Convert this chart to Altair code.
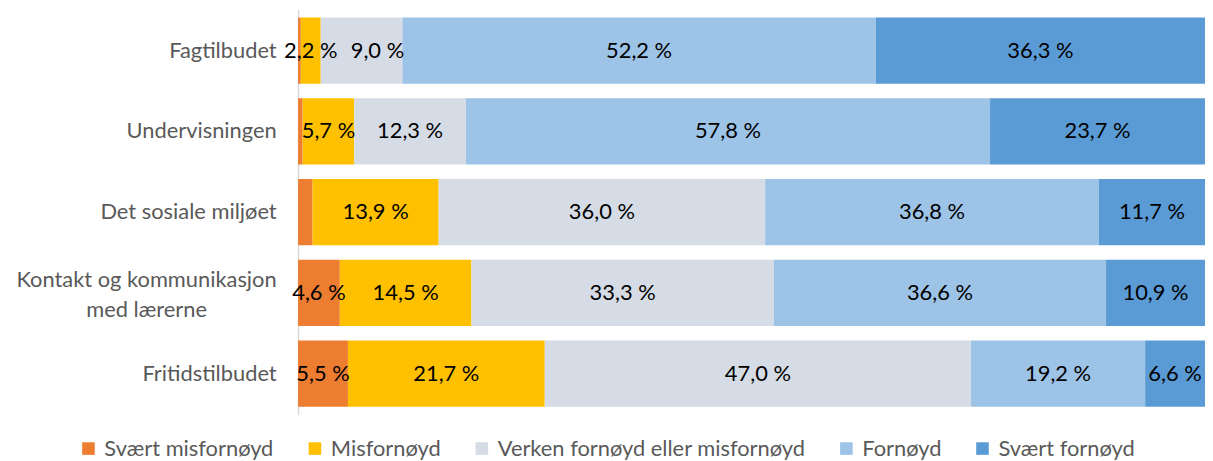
import altair as alt
import pandas as pd

categories = ["Fagtilbudet", "Undervisningen", "Det sosiale miljøet",
              "Kontakt og kommunikasjon med lærerne", "Fritidstilbudet"]
responses = ["Svært misfornøyd", "Misfornøyd", "Verken fornøyd eller misfornøyd",
             "Fornøyd", "Svært fornøyd"]
colors = ["#ED7D31", "#FFC000", "#D6DCE5", "#9DC3E6", "#5B9BD5"]

svaert_misfornoyd = [0.3, 0.5, 1.6, 4.6, 5.5]
misfornoyd = [2.2, 5.7, 13.9, 14.5, 21.7]
verken = [9.0, 12.3, 36.0, 33.3, 47.0]
fornoyd = [52.2, 57.8, 36.8, 36.6, 19.2]
svaert_fornoyd = [36.3, 23.7, 11.7, 10.9, 6.6]

series = [svaert_misfornoyd, misfornoyd, verken, fornoyd, svaert_fornoyd]
rows = []
for ri, (resp, vals) in enumerate(zip(responses, series)):
    for cat, v in zip(categories, vals):
        rows.append({"kategori": cat, "svar": resp, "ordre": ri, "verdi": v})
df = pd.DataFrame(rows)

FONT = "Lato"
FS = 22
LONG = "Kontakt og kommunikasjon med lærerne"
is_long = f"datum.label == '{LONG}'"
label_expr = (f"{is_long} ? ['Kontakt og kommunikasjon', 'med lærerne'] : datum.label")

base = alt.Chart(df).transform_stack(
    stack="verdi", groupby=["kategori"], as_=["x0", "x1"],
    sort=[alt.SortField("ordre", order="ascending")], offset="normalize"
).transform_calculate(
    mid="(datum.x0 + datum.x1) / 2",
    tekst="datum.verdi >= 2 ? replace(format(datum.verdi, '.1f'), '.', ',') + ' %' : ''",
    flytt="datum.kategori == 'Fagtilbudet' && datum.ordre == 2"
)

y_enc = alt.Y("kategori:N", sort=categories,
              scale=alt.Scale(paddingInner=0.18, paddingOuter=0.1),
              axis=alt.Axis(title=None, ticks=False,
                            labelPadding={"condition": {"test": is_long, "value": 153},
                                          "value": 22},
                            labelAlign={"condition": {"test": is_long, "value": "center"},
                                        "value": "right"},
                            labelOffset={"condition": {"test": is_long, "value": -13},
                                         "value": 0},
                            labelFont=FONT, labelFontSize=FS, labelColor="#595959",
                            domainColor="#D9D9D9", domainWidth=1.5,
                            labelExpr=label_expr, labelLineHeight=30, labelLimit=400))

bars = base.mark_bar().encode(
    y=y_enc,
    x=alt.X("x0:Q", scale=alt.Scale(domain=[0, 1]), axis=None),
    x2="x1:Q",
    color=alt.Color("svar:N", sort=responses,
                    scale=alt.Scale(domain=responses, range=colors),
                    legend=alt.Legend(title=None, orient="none", direction="horizontal",
                                      legendX=-222, legendY=431,
                                      symbolType="square", symbolSize=160,
                                      symbolStrokeWidth=0, labelFont=FONT,
                                      labelFontSize=FS, labelColor="#595959",
                                      columnPadding=30, labelOffset=5, labelLimit=500)),
    order=alt.Order("ordre:Q")
)

labels = base.transform_filter("!datum.flytt").mark_text(
    font=FONT, fontSize=FS, color="#000000").encode(
    y=alt.Y("kategori:N", sort=categories),
    x=alt.X("mid:Q"),
    text="tekst:N"
)

labels_moved = base.transform_filter("datum.flytt").mark_text(
    font=FONT, fontSize=FS, color="#000000", dx=16).encode(
    y=alt.Y("kategori:N", sort=categories),
    x=alt.X("mid:Q"),
    text="tekst:N"
)

chart = alt.layer(bars, labels, labels_moved).properties(
    width=913, height=408,
    padding={"left": 292, "top": 0, "right": 0, "bottom": 45},
    autosize=alt.AutoSizeParams(type="none")
).configure_view(stroke=None)

chart.save("out.html", embed_options={"renderer": "svg", "actions": False})
